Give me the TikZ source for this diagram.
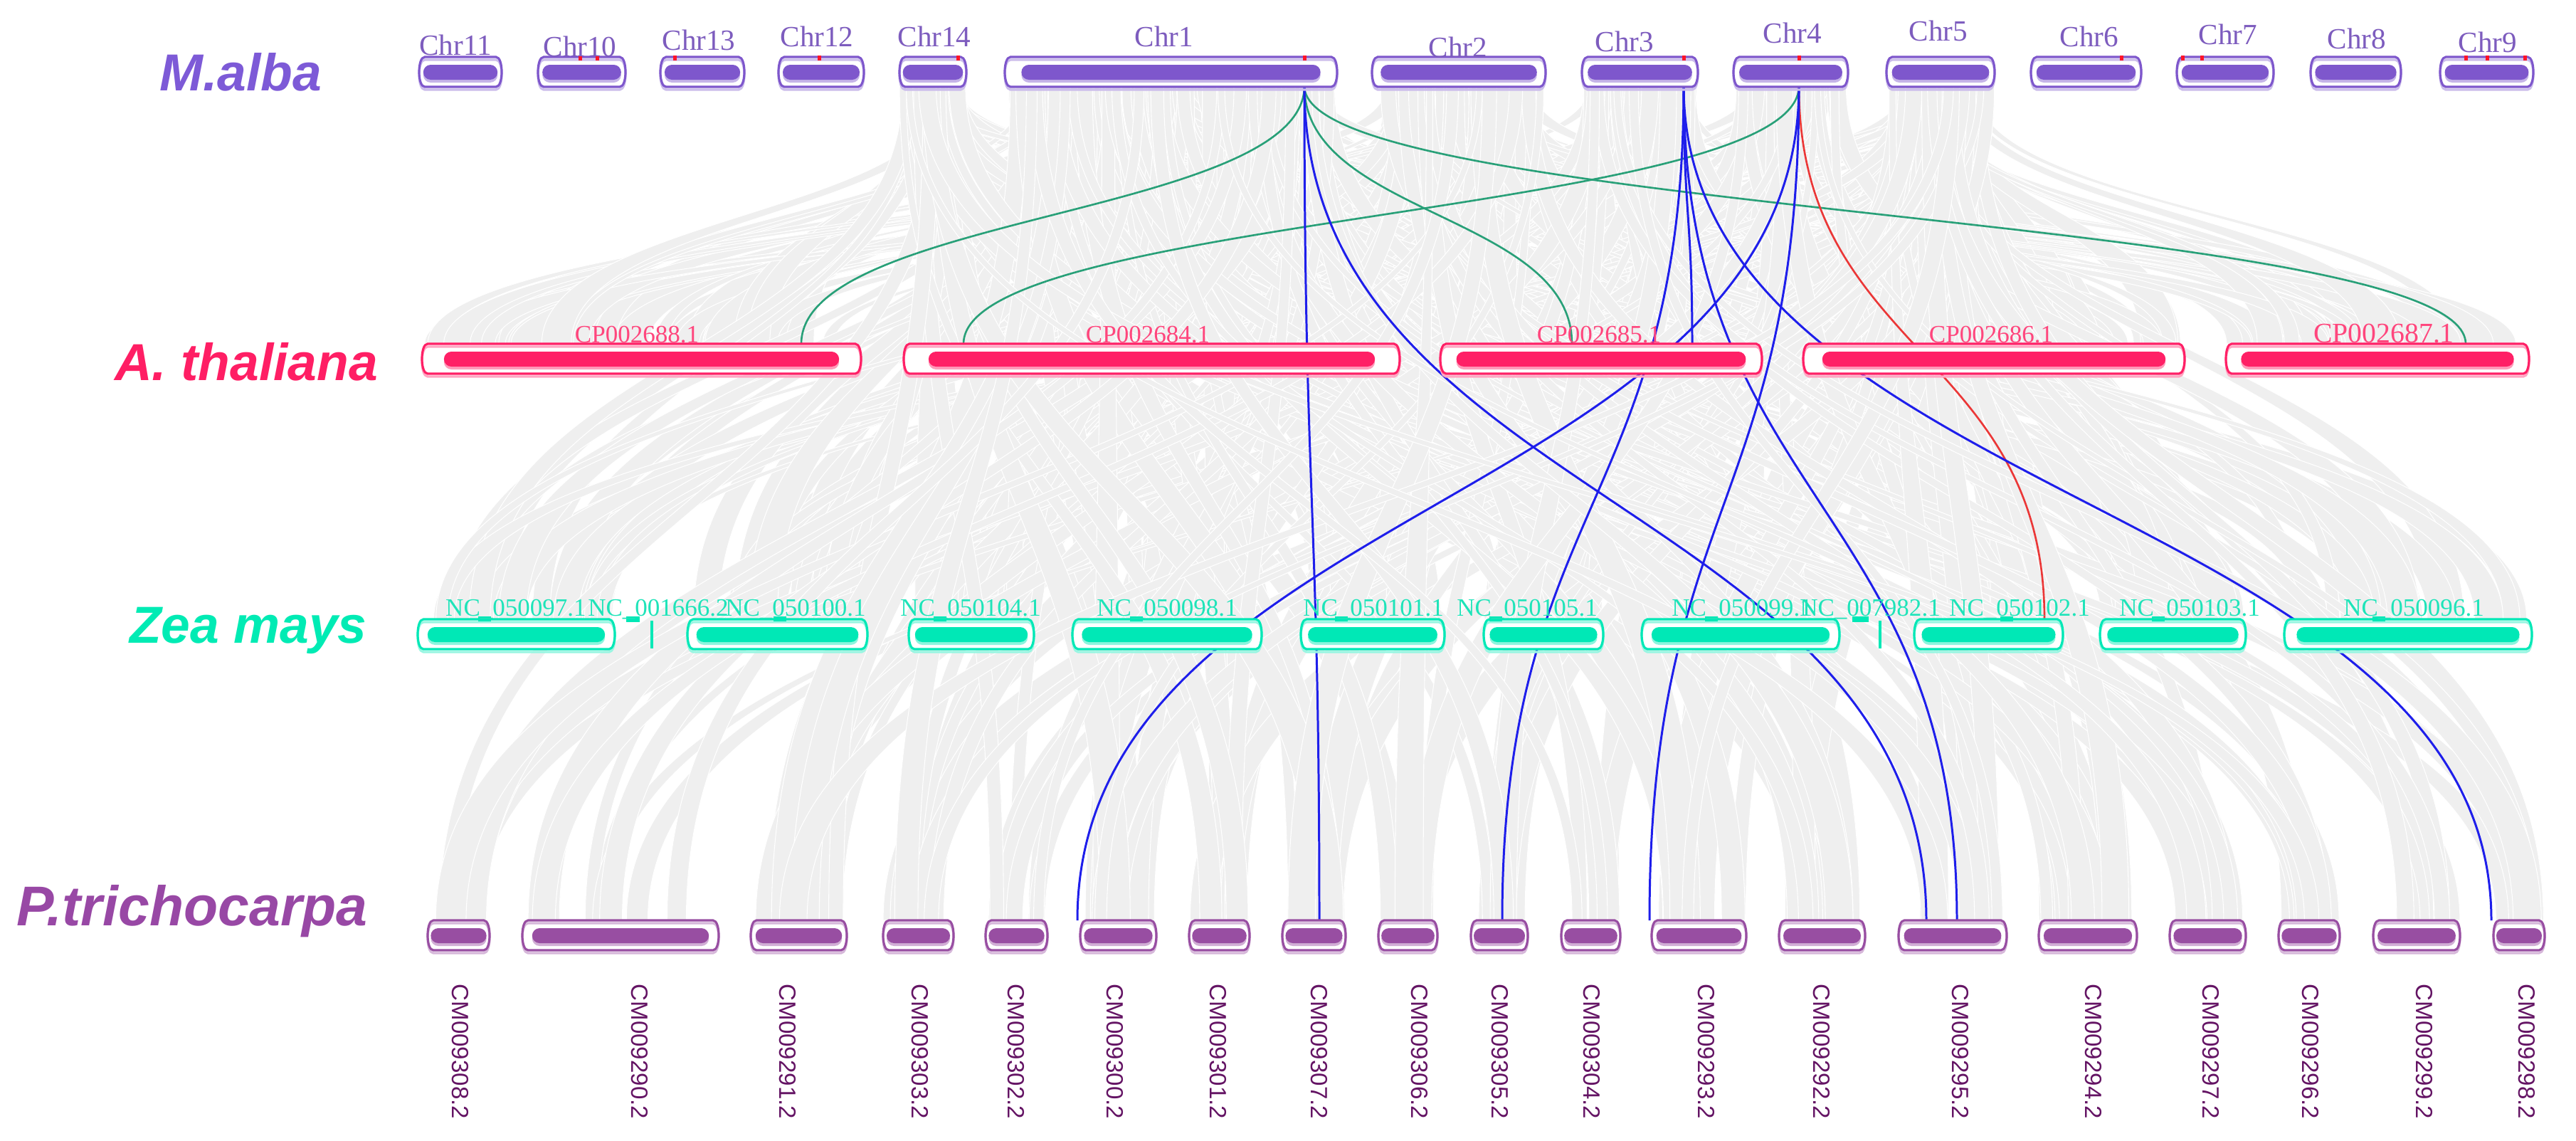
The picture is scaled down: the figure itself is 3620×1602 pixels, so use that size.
\documentclass[tikz,border=0pt]{standalone}
\usepackage{fontspec}
\setmainfont{Liberation Serif}
\newfontfamily\arialf{Liberation Sans}
\usetikzlibrary{calc}
\definecolor{cM}{RGB}{126,87,204}
\definecolor{cA}{RGB}{255,32,102}
\definecolor{cZ}{RGB}{0,232,182}
\definecolor{cP}{RGB}{152,78,162}
\definecolor{tM}{RGB}{125,92,190}
\definecolor{tA}{RGB}{255,70,125}
\definecolor{tZ}{RGB}{30,228,185}
\definecolor{tP}{RGB}{100,20,100}
\definecolor{spM}{RGB}{125,90,215}
\definecolor{spA}{RGB}{255,30,100}
\definecolor{spZ}{RGB}{0,235,180}
\definecolor{spP}{RGB}{152,72,165}
\definecolor{rib}{RGB}{239,239,239}
\definecolor{lb}{RGB}{30,30,235}
\definecolor{lg}{RGB}{40,160,120}
\definecolor{lr}{RGB}{235,55,55}
\definecolor{mk}{RGB}{255,20,40}
\newcommand\capsule[4]{(#1+8,#3) -- (#2-8,#3) .. controls (#2+2.7,#3) and (#2+2.7,#4) .. (#2-8,#4) -- (#1+8,#4) .. controls (#1-2.7,#4) and (#1-2.7,#3) .. (#1+8,#3) -- cycle}
\newcommand\chrbox[5]{%
  \fill[white] \capsule{#2}{#3}{#4}{#4+42};
  \draw[#5!40, line width=0.9pt] \capsule{#2}{#3}{#4+4}{#4+46};
  \draw[#5, line width=0.9pt] \capsule{#2}{#3}{#4}{#4+42};
  \pgfmathsetmacro\ins{max(4,0.05*(#3-#2))}
  \fill[#5!45, rounded corners=0.105cm] (#2+\ins,#4+15) rectangle (#3-\ins,#4+36);
  \fill[#5, rounded corners=0.105cm] (#2+\ins,#4+11) rectangle (#3-\ins,#4+32);
  \coordinate (#1) at ({(#2+#3)/2},#4+21);
}
\newcommand\rmark[1]{\fill[mk] (#1-2.5,78) rectangle (#1+2.5,85);}
\newcommand\zmark[1]{\fill[cZ] (#1-9,866) rectangle (#1+9,873);}
\tikzset{
  splab/.style={anchor=base, inner sep=0, font=\arialf\bfseries\itshape\fontsize{20.8pt}{24pt}\selectfont},
  chrlab/.style={anchor=base, inner sep=0, text=tM, font=\fontsize{11.7pt}{13pt}\selectfont},
  cplab/.style={anchor=base, inner sep=0, text=tA, font=\fontsize{9.96pt}{12pt}\selectfont},
  nclab/.style={anchor=base, inner sep=0, text=tZ, font=\fontsize{9.96pt}{12pt}\selectfont},
  cmlab/.style={anchor=west, rotate=-90, inner sep=0, text=tP, font=\arialf\fontsize{9.4pt}{11pt}\selectfont},
  ribbon/.style={fill=rib, draw=white, line width=0.3pt},
  glink/.style={draw=lg, line width=0.75pt},
  blink/.style={draw=lb, line width=0.85pt},
  rlink/.style={draw=lr, line width=0.75pt}
}
\begin{document}
\begin{tikzpicture}[x=0.01cm,y=-0.01cm]
\useasboundingbox (0,0) rectangle (3620,1602);
\fill[white] (0,0) rectangle (3620,1602);
% ---------- gray synteny ribbons ----------
\def\msS{{1412,1412,1412,1412,1928,1928,2223,2436,2651,2651,1264}}
\def\msL{{467,467,467,467,244,244,163,161,152,152,94}}
\def\atS{{593,1270,2024,2534,3128}}
\def\atL{{617,697,452,536,426}}
\def\zS{{587,966,1277,1507,1828,2085,2307,2690,2951,3210}}
\def\zL{{277,253,176,266,202,168,278,209,205,348}}
\def\pS{{601,734,1055,1241,1385,1518,1671,1802,1937,2067,2194,2321,2500,2668,2865,3049,3202,3335,3504}}
\def\pL{{87,276,135,99,87,107,85,89,83,80,83,133,121,152,138,107,86,122,72}}
\pgfmathsetseed{2024}
\foreach \n in {1,...,190}{
  \pgfmathtruncatemacro\ki{random(0,10)}
  \pgfmathsetmacro\ws{8+rnd*18}
  \pgfmathsetmacro\xs{\msS[\ki]+rnd*(\msL[\ki]-\ws)}
  \pgfmathtruncatemacro\kj{random(0,4)}
  \pgfmathsetmacro\we{14+rnd*40}
  \pgfmathsetmacro\xe{\atS[\kj]+rnd*(\atL[\kj]-\we)}
  \path[ribbon] (\xs,121) .. controls (\xs,302) and (\xe,302) .. (\xe,483) -- (\xe+\we,483) .. controls (\xe+\we,302) and (\xs+\ws,302) .. (\xs+\ws,121) -- cycle;
}
\foreach \n in {1,...,190}{
  \pgfmathtruncatemacro\ki{random(0,10)}
  \pgfmathsetmacro\ws{8+rnd*18}
  \pgfmathsetmacro\xs{\msS[\ki]+rnd*(\msL[\ki]-\ws)}
  \pgfmathtruncatemacro\kj{random(0,9)}
  \pgfmathsetmacro\we{14+rnd*40}
  \pgfmathsetmacro\xe{\zS[\kj]+rnd*(\zL[\kj]-\we)}
  \path[ribbon] (\xs,121) .. controls (\xs,495) and (\xe,495) .. (\xe,870) -- (\xe+\we,870) .. controls (\xe+\we,495) and (\xs+\ws,495) .. (\xs+\ws,121) -- cycle;
}
\foreach \n in {1,...,190}{
  \pgfmathtruncatemacro\ki{random(0,10)}
  \pgfmathsetmacro\ws{8+rnd*18}
  \pgfmathsetmacro\xs{\msS[\ki]+rnd*(\msL[\ki]-\ws)}
  \pgfmathtruncatemacro\kj{random(0,18)}
  \pgfmathsetmacro\we{14+rnd*30}
  \pgfmathsetmacro\xe{\pS[\kj]+rnd*max(0,\pL[\kj]-\we)}
  \path[ribbon] (\xs,121) .. controls (\xs,707) and (\xe,707) .. (\xe,1293) -- (\xe+\we,1293) .. controls (\xe+\we,707) and (\xs+\ws,707) .. (\xs+\ws,121) -- cycle;
}
% ---------- link end points ----------
\coordinate (yA) at (0,302);
\coordinate (yZ) at (0,495.5);
\coordinate (yP) at (0,707);
\coordinate (m1) at (1833,121);
\coordinate (m3) at (2366,121);
\coordinate (m4) at (2528,121);
\coordinate (a1) at (1126,483);
\coordinate (a2) at (2209,483);
\coordinate (a3) at (3465,483);
\coordinate (a4) at (1354,483);
\coordinate (a5) at (2378,483);
\coordinate (z1) at (2873,870);
\coordinate (p1) at (1854,1293);
\coordinate (p2) at (2707,1293);
\coordinate (p3) at (1514,1293);
\coordinate (p4) at (2318,1293);
\coordinate (p5) at (2111,1293);
\coordinate (p6) at (2750,1293);
\coordinate (p7) at (3501,1293);
% ---------- coloured links ----------
\draw[glink] (m1) .. controls (m1 |- yA) and (a1 |- yA) .. (a1);
\draw[glink] (m1) .. controls (m1 |- yA) and (a2 |- yA) .. (a2);
\draw[glink] (m1) .. controls (m1 |- yA) and (a3 |- yA) .. (a3);
\draw[glink] (m4) .. controls (m4 |- yA) and (a4 |- yA) .. (a4);
\draw[blink] (m3) .. controls (m3 |- yA) and (a5 |- yA) .. (a5);
\draw[rlink] (m4) .. controls (m4 |- yZ) and (z1 |- yZ) .. (z1);
\draw[blink] (m1) .. controls (m1 |- yP) and (p1 |- yP) .. (p1);
\draw[blink] (m1) .. controls (m1 |- yP) and (p2 |- yP) .. (p2);
\draw[blink] (m4) .. controls (m4 |- yP) and (p3 |- yP) .. (p3);
\draw[blink] (m4) .. controls (m4 |- yP) and (p4 |- yP) .. (p4);
\draw[blink] (m3) .. controls (m3 |- yP) and (p5 |- yP) .. (p5);
\draw[blink] (m3) .. controls (m3 |- yP) and (p6 |- yP) .. (p6);
\draw[blink] (m3) .. controls (m3 |- yP) and (p7 |- yP) .. (p7);
% ---------- M. alba ----------
\chrbox{Chr11}{589}{705}{80}{cM}
\chrbox{Chr10}{756}{879}{80}{cM}
\chrbox{Chr13}{928}{1046}{80}{cM}
\chrbox{Chr12}{1094}{1214}{80}{cM}
\chrbox{Chr14}{1264}{1358}{80}{cM}
\chrbox{Chr1}{1412}{1879}{80}{cM}
\chrbox{Chr2}{1928}{2172}{80}{cM}
\chrbox{Chr3}{2223}{2386}{80}{cM}
\chrbox{Chr4}{2436}{2597}{80}{cM}
\chrbox{Chr5}{2651}{2803}{80}{cM}
\chrbox{Chr6}{2854}{3009}{80}{cM}
\chrbox{Chr7}{3059}{3195}{80}{cM}
\chrbox{Chr8}{3247}{3374}{80}{cM}
\chrbox{Chr9}{3429}{3560}{80}{cM}
\rmark{815}\rmark{839}\rmark{948}\rmark{1151}\rmark{1346}\rmark{1833}\rmark{2366}\rmark{2528}\rmark{2981}\rmark{3067}\rmark{3094}\rmark{3465}\rmark{3495}\rmark{3548}
\node[chrlab] (lChr11) at (640,77) {Chr11};
\node[chrlab] (lChr10) at (815,79) {Chr10};
\node[chrlab] (lChr13) at (982,70) {Chr13};
\node[chrlab] (lChr12) at (1148,65) {Chr12};
\node[chrlab] (lChr14) at (1313,65) {Chr14};
\node[chrlab] (lChr1) at (1636,65) {Chr1};
\node[chrlab] (lChr2) at (2049,80) {Chr2};
\node[chrlab] (lChr3) at (2283,72) {Chr3};
\node[chrlab] (lChr4) at (2519,60) {Chr4};
\node[chrlab] (lChr5) at (2724,57) {Chr5};
\node[chrlab] (lChr6) at (2936,65) {Chr6};
\node[chrlab] (lChr7) at (3131,62) {Chr7};
\node[chrlab] (lChr8) at (3312,68) {Chr8};
\node[chrlab] (lChr9) at (3496,73) {Chr9};
% ---------- A. thaliana ----------
\chrbox{CP2688}{593}{1210}{483}{cA}
\chrbox{CP2684}{1270}{1967}{483}{cA}
\chrbox{CP2685}{2024}{2476}{483}{cA}
\chrbox{CP2686}{2534}{3070}{483}{cA}
\chrbox{CP2687}{3128}{3554}{483}{cA}
\node[cplab] (lCP2688) at (895,481) {CP002688.1};
\node[cplab] (lCP2684) at (1613,481) {CP002684.1};
\node[cplab] (lCP2685) at (2247,481) {CP002685.1};
\node[cplab] (lCP2686) at (2798,481) {CP002686.1};
\node[cplab, font=\fontsize{11.3pt}{13pt}\selectfont] (lCP2687) at (3350,481) {CP002687.1};
% ---------- Zea mays ----------
\chrbox{NC50097}{587}{864}{870}{cZ}
\chrbox{NC50100}{966}{1219}{870}{cZ}
\chrbox{NC50104}{1277}{1453}{870}{cZ}
\chrbox{NC50098}{1507}{1773}{870}{cZ}
\chrbox{NC50101}{1828}{2030}{870}{cZ}
\chrbox{NC50105}{2085}{2253}{870}{cZ}
\chrbox{NC50099}{2307}{2585}{870}{cZ}
\chrbox{NC50102}{2690}{2899}{870}{cZ}
\chrbox{NC50103}{2951}{3156}{870}{cZ}
\chrbox{NC50096}{3210}{3558}{870}{cZ}
\draw[cZ, line width=0.9pt] (916,872) -- (916,911) coordinate (NC1666);
\draw[cZ, line width=0.9pt] (2642,872) -- (2642,911) coordinate (NC7982);
\fill[cZ] (880,866) rectangle (899,874);
\fill[cZ] (2603,866) rectangle (2626,874);
\zmark{681}\zmark{1096}\zmark{1321}\zmark{1597}\zmark{1885}\zmark{2102}\zmark{2405}\zmark{2820}\zmark{3033}\zmark{3343}
\node[nclab] (lNC50097) at (725,865) {NC\_050097.1};
\node[nclab] (lNC1666) at (925,865) {NC\_001666.2};
\node[nclab] (lNC50100) at (1118,865) {NC\_050100.1};
\node[nclab] (lNC50104) at (1364,865) {NC\_050104.1};
\node[nclab] (lNC50098) at (1640,865) {NC\_050098.1};
\node[nclab] (lNC50101) at (1930,865) {NC\_050101.1};
\node[nclab] (lNC50105) at (2146,865) {NC\_050105.1};
\node[nclab] (lNC50099) at (2448,865) {NC\_050099.1};
\node[nclab] (lNC7982) at (2628,865) {NC\_007982.1};
\node[nclab] (lNC50102) at (2838,865) {NC\_050102.1};
\node[nclab] (lNC50103) at (3077,865) {NC\_050103.1};
\node[nclab] (lNC50096) at (3392,865) {NC\_050096.1};
% ---------- P. trichocarpa ----------
\chrbox{CM9308}{601}{688}{1293}{cP}
\chrbox{CM9290}{734}{1010}{1293}{cP}
\chrbox{CM9291}{1055}{1190}{1293}{cP}
\chrbox{CM9303}{1241}{1340}{1293}{cP}
\chrbox{CM9302}{1385}{1472}{1293}{cP}
\chrbox{CM9300}{1518}{1625}{1293}{cP}
\chrbox{CM9301}{1671}{1756}{1293}{cP}
\chrbox{CM9307}{1802}{1891}{1293}{cP}
\chrbox{CM9306}{1937}{2020}{1293}{cP}
\chrbox{CM9305}{2067}{2147}{1293}{cP}
\chrbox{CM9304}{2194}{2277}{1293}{cP}
\chrbox{CM9293}{2321}{2454}{1293}{cP}
\chrbox{CM9292}{2500}{2621}{1293}{cP}
\chrbox{CM9295}{2668}{2820}{1293}{cP}
\chrbox{CM9294}{2865}{3003}{1293}{cP}
\chrbox{CM9297}{3049}{3156}{1293}{cP}
\chrbox{CM9296}{3202}{3288}{1293}{cP}
\chrbox{CM9299}{3335}{3457}{1293}{cP}
\chrbox{CM9298}{3504}{3576}{1293}{cP}
\node[cmlab] (lCM9308) at (647,1382) {CM009308.2};
\node[cmlab] (lCM9290) at (899,1382) {CM009290.2};
\node[cmlab] (lCM9291) at (1107,1382) {CM009291.2};
\node[cmlab] (lCM9303) at (1293,1382) {CM009303.2};
\node[cmlab] (lCM9302) at (1428,1382) {CM009302.2};
\node[cmlab] (lCM9300) at (1567,1382) {CM009300.2};
\node[cmlab] (lCM9301) at (1712,1382) {CM009301.2};
\node[cmlab] (lCM9307) at (1854,1382) {CM009307.2};
\node[cmlab] (lCM9306) at (1995,1382) {CM009306.2};
\node[cmlab] (lCM9305) at (2108,1382) {CM009305.2};
\node[cmlab] (lCM9304) at (2237,1382) {CM009304.2};
\node[cmlab] (lCM9293) at (2398,1382) {CM009293.2};
\node[cmlab] (lCM9292) at (2560,1382) {CM009292.2};
\node[cmlab] (lCM9295) at (2755,1382) {CM009295.2};
\node[cmlab] (lCM9294) at (2942,1382) {CM009294.2};
\node[cmlab] (lCM9297) at (3107,1382) {CM009297.2};
\node[cmlab] (lCM9296) at (3247,1382) {CM009296.2};
\node[cmlab] (lCM9299) at (3407,1382) {CM009299.2};
\node[cmlab] (lCM9298) at (3551,1382) {CM009298.2};
% ---------- species names ----------
\node[splab, text=spM] (spMalba) at (338,127) {M.alba};
\node[splab, text=spA] (spAth) at (346,534) {A. thaliana};
\node[splab, text=spZ] (spZea) at (349,903) {Zea mays};
\node[splab, text=spP, font=\arialf\bfseries\itshape\fontsize{22.4pt}{26pt}\selectfont] (spPtr) at (270,1300) {P.trichocarpa};
\end{tikzpicture}
\end{document}
